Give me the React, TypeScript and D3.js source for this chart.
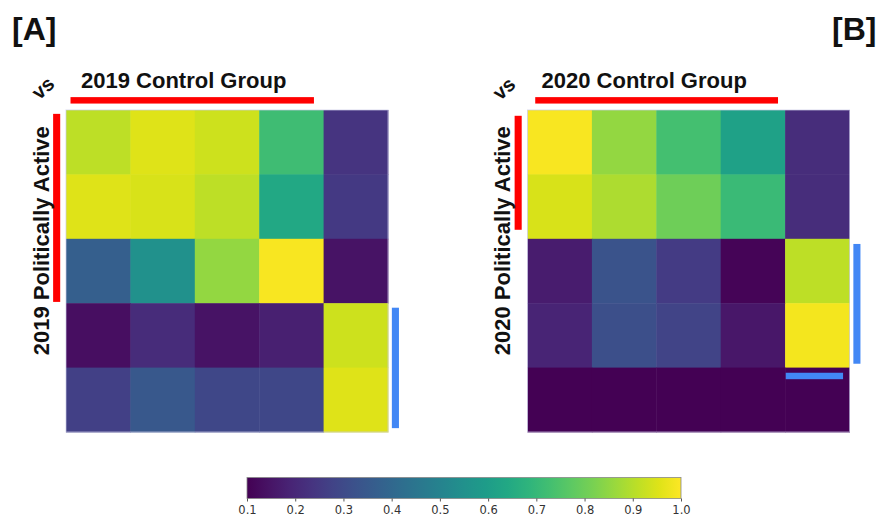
import React from "react";
import * as d3 from "d3";

const rowsA = ["r1", "r2", "r3", "r4", "r5"];
const colsA = ["c1", "c2", "c3", "c4", "c5"];
const valuesA: number[][] = [
  [0.91, 0.955, 0.93, 0.72, 0.235],
  [0.955, 0.945, 0.91, 0.64, 0.25],
  [0.37, 0.55, 0.855, 0.99, 0.145],
  [0.135, 0.21, 0.145, 0.18, 0.93],
  [0.27, 0.345, 0.29, 0.29, 0.955],
];
const valuesB: number[][] = [
  [0.99, 0.855, 0.73, 0.615, 0.215],
  [0.945, 0.89, 0.8, 0.71, 0.215],
  [0.17, 0.33, 0.255, 0.11, 0.91],
  [0.19, 0.315, 0.28, 0.155, 0.985],
  [0.1, 0.1, 0.1, 0.1, 0.1],
];
const colorTicks = [0.1, 0.2, 0.3, 0.4, 0.5, 0.6, 0.7, 0.8, 0.9, 1.0];

// annotation bars in cell units: [x0, x1, y0, y1]
const barsA = [
  { color: "#ff0000", x0: 0.07, x1: 3.85, y0: -0.2, y1: -0.1 },
  { color: "#ff0000", x0: -0.2, x1: -0.09, y0: 0.06, y1: 2.98 },
  { color: "#4287f5", x0: 5.06, x1: 5.17, y0: 3.07, y1: 4.94 },
];
const barsB = [
  { color: "#ff0000", x0: 0.12, x1: 3.89, y0: -0.2, y1: -0.1 },
  { color: "#ff0000", x0: -0.2, x1: -0.09, y0: 0.09, y1: 1.86 },
  { color: "#4287f5", x0: 5.06, x1: 5.17, y0: 2.08, y1: 3.94 },
  { color: "#4287f5", x0: 4.01, x1: 4.9, y0: 4.08, y1: 4.18 },
];

const color = d3.scaleSequential(d3.interpolateViridis).domain([0.1, 1.0]);
const FONT = "'Liberation Sans', Arial, sans-serif";

function Heatmap({ x0, y0, size, values, bars, title, ylabel, vsPos }: any) {
  const xb = d3.scaleBand().domain(colsA).range([x0, x0 + size]);
  const yb = d3.scaleBand().domain(rowsA).range([y0, y0 + size]);
  const lx = d3.scaleLinear().domain([0, 5]).range([x0, x0 + size]);
  const ly = d3.scaleLinear().domain([0, 5]).range([y0, y0 + size]);
  return (
    <g>
      {values.map((row: number[], i: number) =>
        row.map((v: number, j: number) => (
          <rect
            key={i + "-" + j}
            x={xb(colsA[j])}
            y={yb(rowsA[i])}
            width={xb.bandwidth() + 0.5}
            height={yb.bandwidth() + 0.5}
            fill={color(v)}
          />
        ))
      )}
      <rect x={x0} y={y0} width={size} height={size} fill="none" stroke="#c9c9e6" strokeOpacity={0.7} strokeWidth={1} />
      {bars.map((b: any, k: number) => (
        <rect key={k} x={lx(b.x0)} y={ly(b.y0)} width={lx(b.x1) - lx(b.x0)} height={ly(b.y1) - ly(b.y0)} fill={b.color} />
      ))}
      <text x={title.x} y={88} fontFamily={FONT} fontWeight="bold" fontSize={22} fill="#111">
        {title.text}
      </text>
      <text
        transform={`translate(${ylabel.x},${ly(2.03)}) rotate(-90)`}
        textAnchor="middle"
        fontFamily={FONT}
        fontWeight="bold"
        fontSize={22}
        fill="#111"
      >
        {ylabel.text}
      </text>
      <text
        transform={`translate(${vsPos[0]},${vsPos[1]}) rotate(-42)`}
        textAnchor="middle"
        dy="0.27em"
        fontFamily={FONT}
        fontWeight="bold"
        fontSize={20}
        fill="#111"
      >
        vs
      </text>
    </g>
  );
}

function Colorbar() {
  const x = d3.scaleLinear().domain([0.1, 1.0]).range([247, 681]);
  const stops = d3.range(0, 1.0001, 0.05);
  const axisRef = React.useRef<SVGGElement>(null);
  React.useEffect(() => {
    if (!axisRef.current) return;
    const g = d3.select(axisRef.current);
    g.call(d3.axisBottom(x).tickValues(colorTicks).tickSize(3).tickFormat(d3.format(".1f")) as any);
    g.select(".domain").remove();
    g.selectAll("text")
      .attr("font-family", "'DejaVu Sans', sans-serif")
      .attr("font-size", 11.5)
      .attr("fill", "#333")
      .attr("y", 15.5)
      .attr("dy", 0);
    g.selectAll("line").attr("stroke", "#555");
  }, []);
  return (
    <g>
      <defs>
        <linearGradient id="vir" x1="0" x2="1" y1="0" y2="0">
          {stops.map((t) => (
            <stop key={t} offset={t} stopColor={d3.interpolateViridis(t)} />
          ))}
        </linearGradient>
      </defs>
      <rect x={x(0.1)} y={477.5} width={x(1.0) - x(0.1)} height={21} fill="url(#vir)" stroke="#888" strokeWidth={0.8} />
      <g ref={axisRef} transform="translate(0,498.5)" />
    </g>
  );
}

export default function App() {
  return (
    <svg width={881} height={520} style={{ position: "absolute", left: 0, top: 0, background: "#fff" }}>
      <text x={12} y={40} fontFamily={FONT} fontWeight="bold" fontSize={32} fill="#111">[A]</text>
      <text x={832} y={40} fontFamily={FONT} fontWeight="bold" fontSize={32} fill="#111">[B]</text>
      <Heatmap
        x0={66}
        y0={110}
        size={322}
        values={valuesA}
        bars={barsA}
        title={{ x: 81, text: "2019 Control Group" }}
        ylabel={{ x: 48.5, text: "2019 Politically Active" }}
        vsPos={[44, 89]}
      />
      <Heatmap
        x0={527.5}
        y0={110}
        size={322}
        values={valuesB}
        bars={barsB}
        title={{ x: 541.5, text: "2020 Control Group" }}
        ylabel={{ x: 509.5, text: "2020 Politically Active" }}
        vsPos={[505, 89.5]}
      />
      <Colorbar />
    </svg>
  );
}
